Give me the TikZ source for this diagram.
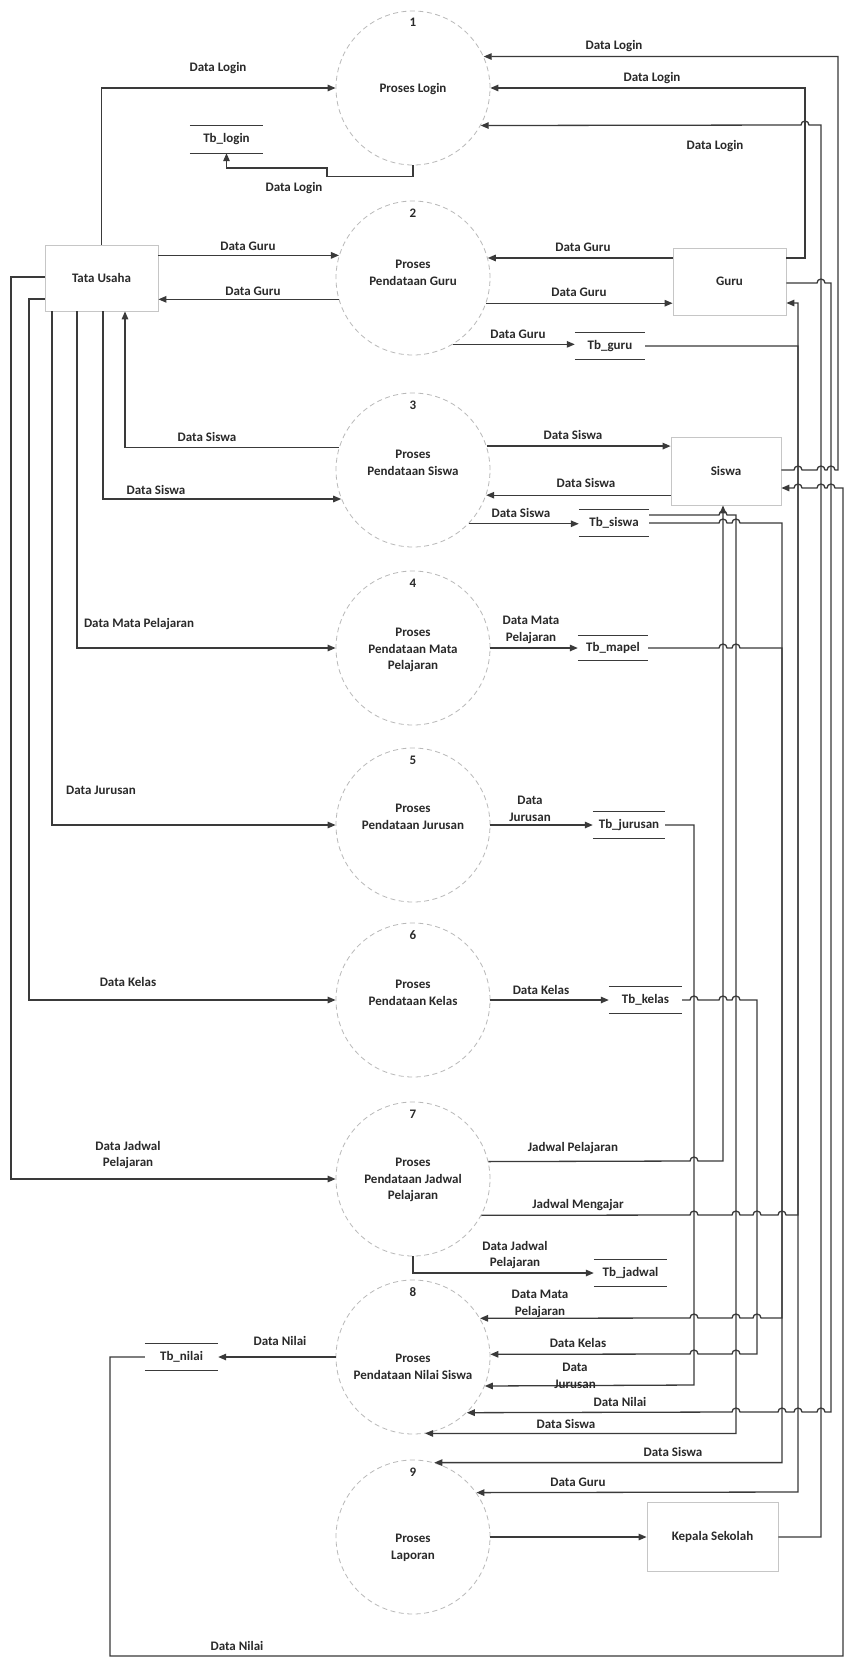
\documentclass[tikz,border=0pt]{standalone}
\usepackage{fontspec}
\setmainfont{Carlito}
\usetikzlibrary{arrows.meta}
\definecolor{linec}{HTML}{3A3A3A}
\definecolor{textc}{HTML}{2A2A2A}
\newcommand\lbl{\fontsize{13}{16.5}\selectfont\bfseries}
\tikzset{
  cline/.style={draw=linec, line width=1.3pt},
  flow/.style={cline, -{Triangle[length=8pt,width=6.5pt]}},
  proc/.style={circle, draw=gray!55, dash pattern=on 5pt off 3.5pt, line width=0.8pt, minimum size=154pt, inner sep=0pt},
  ent/.style={rectangle, draw=gray!45, line width=0.8pt, inner sep=0pt, font=\lbl, text=textc},
  storeline/.style={draw=linec, line width=1.1pt},
  dstore/.style={inner sep=0pt, font=\lbl, text=textc, append after command={(\tikzlastnode.north west) edge[storeline] (\tikzlastnode.north east) (\tikzlastnode.south west) edge[storeline] (\tikzlastnode.south east)}},
  flab/.style={font=\lbl, text=textc, inner sep=0pt, align=center},
}
\begin{document}
\begin{tikzpicture}[x=1pt,y=-1pt]
\fill[white] (0,0) rectangle (845,1660);
\useasboundingbox (0,0) rectangle (845,1660);

% processes
\node[proc] (p1) at (413,88) {};
\node[proc] (p2) at (413,278) {};
\node[proc] (p3) at (413,470) {};
\node[proc] (p4) at (413,648) {};
\node[proc] (p5) at (413,825) {};
\node[proc] (p6) at (413,1000) {};
\node[proc] (p7) at (413,1179) {};
\node[proc] (p8) at (413,1357) {};
\node[proc] (p9) at (413,1537) {};

\node[flab] (n1) at (413,22) {1};
\node[flab] (t1) at (413,89) {Proses Login};
\node[flab] (n2) at (413,213) {2};
\node[flab] (t2) at (413,273) {Proses\\Pendataan Guru};
\node[flab] (n3) at (413,405) {3};
\node[flab] (t3) at (413,463) {Proses\\Pendataan Siswa};
\node[flab] (n4) at (413,583) {4};
\node[flab] (t4) at (413,650) {Proses\\Pendataan Mata\\Pelajaran};
\node[flab] (n5) at (413,760) {5};
\node[flab] (t5) at (413,817) {Proses\\Pendataan Jurusan};
\node[flab] (n6) at (413,935) {6};
\node[flab] (t6) at (413,993) {Proses\\Pendataan Kelas};
\node[flab] (n7) at (413,1114) {7};
\node[flab] (t7) at (413,1180) {Proses\\Pendataan Jadwal\\Pelajaran};
\node[flab] (n8) at (413,1292) {8};
\node[flab] (t8) at (413,1367) {Proses\\Pendataan Nilai Siswa};
\node[flab] (n9) at (413,1472) {9};
\node[flab] (t9) at (413,1548) {Proses\\Laporan};

% entities
\node[ent, minimum width=113pt, minimum height=66pt] (TU) at (101.5,278) {Tata Usaha};
\node[ent, minimum width=113pt, minimum height=67pt] (Guru) at (729.5,281.5) {Guru};
\node[ent, minimum width=110pt, minimum height=68pt] (Siswa) at (726,471) {Siswa};
\node[ent, minimum width=131pt, minimum height=69pt] (KS) at (712.5,1537) {Kepala Sekolah};

% data stores
\node[dstore, minimum width=73pt, minimum height=27pt] (TbLogin) at (226.5,139.5) {Tb\_login};
\node[dstore, minimum width=70pt, minimum height=26pt] (TbGuru) at (610,346) {Tb\_guru};
\node[dstore, minimum width=70pt, minimum height=27pt] (TbSiswa) at (614,523) {Tb\_siswa};
\node[dstore, minimum width=70pt, minimum height=25pt] (TbMapel) at (613,648) {Tb\_mapel};
\node[dstore, minimum width=72pt, minimum height=26pt] (TbJurusan) at (629,825) {Tb\_jurusan};
\node[dstore, minimum width=73pt, minimum height=27pt] (TbKelas) at (645.5,1000) {Tb\_kelas};
\node[dstore, minimum width=73pt, minimum height=27pt] (TbJadwal) at (630.5,1273) {Tb\_jadwal};
\node[dstore, minimum width=73pt, minimum height=27pt] (TbNilai) at (181.5,1357) {Tb\_nilai};

% ---- login flows
\draw[flow] (TU.north) |- (p1.west);
\draw[flow] (Siswa.east |- 0,470) -- (794,470) arc[start angle=180,end angle=0,radius=4pt] -- (817,470) arc[start angle=180,end angle=0,radius=4pt] -- (827,470) arc[start angle=180,end angle=0,radius=4pt] -- (838,470) |- (p1.24.6);
\draw[flow] (Guru.east |- 0,258) -| (805,88) -- (p1.east);
\draw[flow] (KS.east) -| (821,125) -- (809,125) arc[start angle=0,end angle=180,radius=4pt] -- (p1.331.3);
\draw[flow] (p1.south) -- ++(0,11) -| (327,168) -| (TbLogin.south);

% ---- guru flows
\draw[flow] (p2.163.4 -| TU.east) -- (p2.163.4);
\draw[flow] (p2.196.6) -- (p2.196.6 -| TU.east);
\draw[flow] (p2.15.8 -| Guru.west) -- (p2.15.8);
\draw[flow] (p2.341.8) -- (p2.341.8 -| Guru.west);
\draw[flow] (p2.301) -- (p2.301 -| TbGuru.west);
\draw[flow] (TbGuru.east) -| (798,1492) -- (p9.35.8);

% ---- siswa flows
\draw[flow] (p3.163.4) -| (TU.south -| 125,0);
\draw[flow] (TU.south -| 103,0) |- (p3.202.1);
\draw[flow] (p3.18.9) -- (p3.18.9 -| Siswa.west);
\draw[flow] (p3.341.8 -| Siswa.west) -- (p3.341.8);
\draw[flow] (p3.316.5) -- (p3.316.5 -| TbSiswa.west);

% ---- mapel, jurusan, kelas, jadwal
\draw[flow] (TU.south -| 77,0) |- (p4.west);
\draw[flow] (p4.east) -- (TbMapel.west);
\draw[flow] (TU.south -| 52,0) |- (p5.west);
\draw[flow] (p5.east) -- (TbJurusan.west);
\draw[flow] (TU.west |- 0,299) -| (29,1000) |- (p6.west);
\draw[flow] (p6.east) -- (TbKelas.west);
\draw[flow] (TU.west |- 0,277) -| (11,1179) |- (p7.west);
\draw[flow] (p7.south) |- (TbJadwal.west);
\draw[flow] (p7.13.5) -- (690,1161) arc[start angle=180,end angle=0,radius=4pt] -- (723,1161) -- (Siswa.south -| 723,0);
\draw[flow] (p7.332.1) -- (690,1215) arc[start angle=180,end angle=0,radius=4pt] -- (732,1215) arc[start angle=180,end angle=0,radius=4pt] -- (753,1215) arc[start angle=180,end angle=0,radius=4pt] -- (778,1215) arc[start angle=180,end angle=0,radius=4pt] -- (798,1215) |- (Guru.east |- 0,303);

% ---- inputs of process 8 and 9
\draw[flow] (TbMapel.east) -- (719,648) arc[start angle=180,end angle=0,radius=4pt] -- (732,648) arc[start angle=180,end angle=0,radius=4pt] -- (782,648) -- (782,1318) -- (761,1318) arc[start angle=0,end angle=180,radius=4pt] -- (740,1318) arc[start angle=0,end angle=180,radius=4pt] -- (698,1318) arc[start angle=0,end angle=180,radius=4pt] -- (p8.30.4);
\draw[flow] (TbSiswa.north east |- 0,515) -- (719,515) arc[start angle=180,end angle=0,radius=4pt] -- (736,515) |- (p8.279);
\draw[flow] (TbSiswa.east) -- (719,523) arc[start angle=180,end angle=0,radius=4pt] -- (732,523) arc[start angle=180,end angle=0,radius=4pt] -- (782,523) |- (p9.74);
\draw[flow] (TbKelas.east) -- (690,1000) arc[start angle=180,end angle=0,radius=4pt] -- (719,1000) arc[start angle=180,end angle=0,radius=4pt] -- (732,1000) arc[start angle=180,end angle=0,radius=4pt] -- (757,1000) -- (757,1354) -- (740,1354) arc[start angle=0,end angle=180,radius=4pt] -- (698,1354) arc[start angle=0,end angle=180,radius=4pt] -- (p8.2.2);
\draw[flow] (TbJurusan.east) -| (694,1385) -- (p8.338.7);
\draw[flow] (Guru.east |- 0,283) -- (817,283) arc[start angle=180,end angle=0,radius=4pt] -- (831,283) -- (831,1412) -- (825,1412) arc[start angle=0,end angle=180,radius=4pt] -- (802,1412) arc[start angle=0,end angle=180,radius=4pt] -- (786,1412) arc[start angle=0,end angle=180,radius=4pt] -- (740,1412) arc[start angle=0,end angle=180,radius=4pt] -- (p8.314.4);
\draw[flow] (p8.west) -- (TbNilai.east);
\draw[flow] (TbNilai.west) -| (110,1656) -| (843,488) -- (835,488) arc[start angle=0,end angle=180,radius=4pt] -- (825,488) arc[start angle=0,end angle=180,radius=4pt] -- (802,488) arc[start angle=0,end angle=180,radius=4pt] -- (Siswa.east |- 0,488);
\draw[flow] (p9.east) -- (KS.west);

% ---- labels
\node[flab] (l1) at (218,68) {Data Login};
\node[flab] (l2) at (614,46) {Data Login};
\node[flab] (l3) at (652,78) {Data Login};
\node[flab] (l4) at (715,146) {Data Login};
\node[flab] (l5) at (294,188) {Data Login};
\node[flab] (l6) at (248,246) {Data Guru};
\node[flab] (l7) at (253,291) {Data Guru};
\node[flab] (l8) at (583,247) {Data Guru};
\node[flab] (l9) at (579,292) {Data Guru};
\node[flab] (l10) at (518,334) {Data Guru};
\node[flab] (l11) at (207,437) {Data Siswa};
\node[flab] (l12) at (156,490) {Data Siswa};
\node[flab] (l13) at (573,435) {Data Siswa};
\node[flab] (l14) at (586,483) {Data Siswa};
\node[flab] (l15) at (521,513) {Data Siswa};
\node[flab] (l16) at (139,624) {Data Mata Pelajaran};
\node[flab] (l17) at (531,630) {Data Mata\\Pelajaran};
\node[flab] (l18) at (101,790) {Data Jurusan};
\node[flab] (l19) at (530,809) {Data\\Jurusan};
\node[flab] (l20) at (128,982) {Data Kelas};
\node[flab] (l21) at (541,990) {Data Kelas};
\node[flab] (l22) at (128,1155) {Data Jadwal\\Pelajaran};
\node[flab] (l23) at (573,1148) {Jadwal Pelajaran};
\node[flab] (l24) at (578,1205) {Jadwal Mengajar};
\node[flab] (l25) at (515,1255) {Data Jadwal\\Pelajaran};
\node[flab] (l26) at (540,1304) {Data Mata\\Pelajaran};
\node[flab] (l27) at (280,1341) {Data Nilai};
\node[flab] (l28) at (578,1343) {Data Kelas};
\node[flab] (l29) at (575,1376) {Data\\Jurusan};
\node[flab] (l30) at (620,1402) {Data Nilai};
\node[flab] (l31) at (566,1424) {Data Siswa};
\node[flab] (l32) at (673,1452) {Data Siswa};
\node[flab] (l33) at (578,1482) {Data Guru};
\node[flab] (l34) at (237,1646) {Data Nilai};
\end{tikzpicture}
\end{document}
